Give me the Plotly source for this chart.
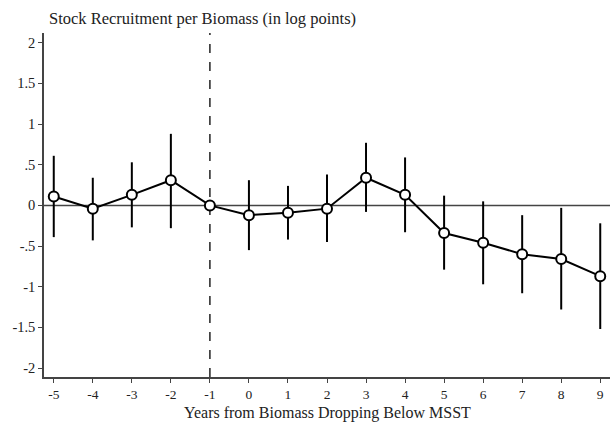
import plotly.graph_objects as go

years = [-5, -4, -3, -2, -1, 0, 1, 2, 3, 4, 5, 6, 7, 8, 9]
xtick_text = ["-5", "-4", "-3", "-2", "-1", "0", "1", "2", "3", "4", "5", "6", "7", "8", "9"]
estimate = [0.11, -0.04, 0.13, 0.31, 0.0, -0.12, -0.09, -0.04, 0.34, 0.13, -0.34, -0.46, -0.60, -0.66, -0.87]
ci_upper = [0.61, 0.34, 0.53, 0.88, None, 0.31, 0.24, 0.38, 0.77, 0.59, 0.12, 0.05, -0.12, -0.03, -0.22]
ci_lower = [-0.39, -0.43, -0.27, -0.28, None, -0.55, -0.42, -0.45, -0.08, -0.33, -0.79, -0.97, -1.08, -1.28, -1.52]
ytick_vals = [-2, -1.5, -1, -0.5, 0, 0.5, 1, 1.5, 2]
ytick_text = ["-2", "-1.5", "-1", "-.5", "0", ".5", "1", "1.5", "2"]

FONT = "Liberation Serif"

fig = go.Figure()

# CI vertical lines
cx, cy = [], []
for x, lo, hi in zip(years, ci_lower, ci_upper):
    if lo is None:
        continue
    cx += [x, x, None]
    cy += [lo, hi, None]
fig.add_trace(go.Scatter(x=cx, y=cy, mode="lines", line=dict(color="black", width=2),
                         hoverinfo="skip", showlegend=False))

fig.add_trace(go.Scatter(x=years, y=estimate, mode="lines+markers",
                         line=dict(color="black", width=2),
                         marker=dict(size=10, color="white", line=dict(color="black", width=2)),
                         showlegend=False))

fig.add_shape(type="line", xref="x", yref="paper", x0=-1, x1=-1, y0=0, y1=1,
              line=dict(color="#222", width=1.5, dash="dash"), layer="below")
fig.add_shape(type="line", xref="paper", yref="y", x0=0, x1=1, y0=0, y1=0,
              line=dict(color="#444", width=1.5), layer="below")

fig.update_layout(
    width=616, height=423,
    margin=dict(l=44, r=6, t=33, b=46),
    paper_bgcolor="white", plot_bgcolor="white",
    font=dict(family=FONT, size=14, color="#222"),
    annotations=[
        dict(text="Stock Recruitment per Biomass (in log points)", xref="paper", yref="paper",
             x=0.005, y=1.0, xanchor="left", yanchor="bottom", yshift=3, showarrow=False,
             font=dict(family=FONT, size=16.5, color="#222")),
        dict(text="Years from Biomass Dropping Below MSST", xref="paper", yref="paper",
             x=0.5, y=0, xanchor="center", yanchor="bottom", yshift=-46, borderpad=0,
             showarrow=False, font=dict(family=FONT, size=16, color="#222")),
    ],
)
fig.update_xaxes(range=[-5.25, 9.25], tickvals=years, ticktext=xtick_text, ticks="outside", ticklen=4,
                 tickcolor="#444", showline=True, linecolor="#444", linewidth=1.5, showgrid=False,
                 zeroline=False, automargin=False, tickfont=dict(size=13.5))
fig.update_yaxes(range=[-2.11, 2.12], tickvals=ytick_vals, ticktext=ytick_text, ticks="outside",
                 ticklen=4, tickcolor="#444", showline=True, linecolor="#444", linewidth=1.5,
                 showgrid=False, zeroline=False, automargin=False, tickfont=dict(size=14.5))

fig.write_html("out.html")
